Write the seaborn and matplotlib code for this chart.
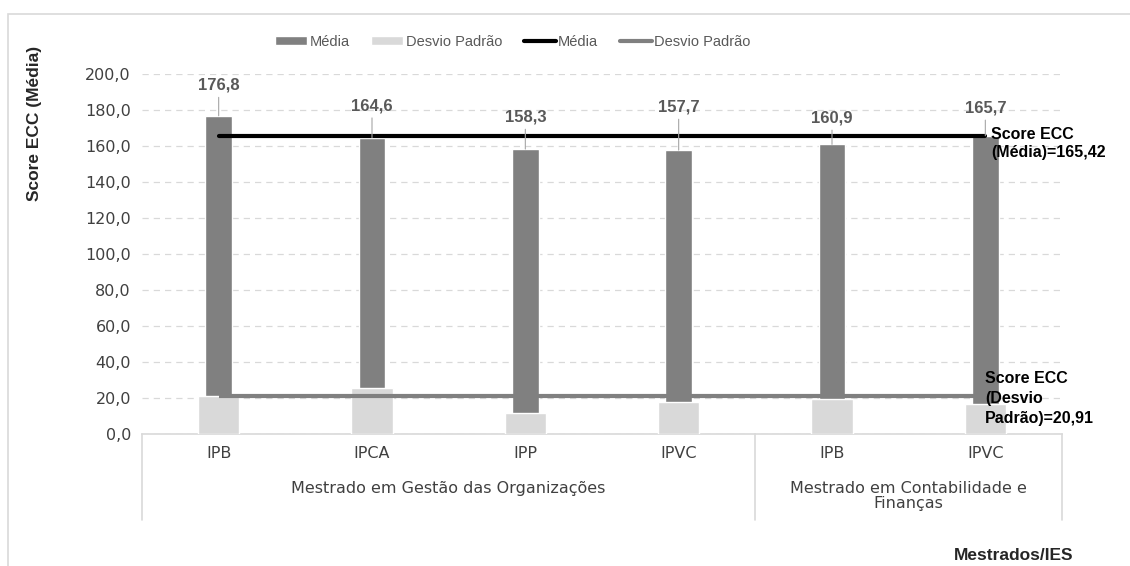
import pandas as pd
import numpy as np
import matplotlib.pyplot as plt
import matplotlib.ticker as mticker
from matplotlib.lines import Line2D
from matplotlib.patches import Patch, Rectangle
import seaborn as sns

# =============================================================================
# DADOS
# =============================================================================
mestrados = ['Mestrado em Gestão das Organizações',
             'Mestrado em Contabilidade e\nFinanças']
ies = ['IPB', 'IPCA', 'IPP', 'IPVC', 'IPB', 'IPVC']
mestrado_de_cada = [0, 0, 0, 0, 1, 1]
media = [176.8, 164.6, 158.3, 157.7, 160.9, 165.7]
desvio = [21.1, 25.5, 11.6, 17.8, 19.6, 16.9]
media_geral = 165.42
desvio_geral = 20.91

# deslocamento (pontos) dos rótulos acima das barras, como no original
desloc_rotulo = [22, 23, 23, 31, 19, 20]

COR_MEDIA = '#808080'
COR_DESVIO = '#d9d9d9'
COR_TEXTO = '#595959'
FONTE_REG = ['DejaVu Sans']
FONTE_NEG = ['Liberation Sans', 'DejaVu Sans']

df = pd.DataFrame({
    'chave': [f'{m}|{i}|{k}' for k, (m, i) in enumerate(zip(mestrado_de_cada, ies))],
    'IES': ies,
    'Média': media,
    'Desvio Padrão': desvio,
})

# =============================================================================
# GRÁFICO
# =============================================================================
sns.set_style('white')
plt.rcParams['font.family'] = ['Liberation Sans', 'DejaVu Sans']

fig = plt.figure(figsize=(11.3, 5.66), dpi=100)
ax = fig.add_axes([142 / 1130, 1 - 434 / 566, 920 / 1130, 360 / 566])

ordem = list(df['chave'])
sns.barplot(data=df, x='chave', y='Média', order=ordem, color=COR_MEDIA,
            width=0.175, saturation=1, ax=ax, zorder=2)
sns.barplot(data=df, x='chave', y='Desvio Padrão', order=ordem, color=COR_DESVIO,
            width=0.27, saturation=1, ax=ax, zorder=3)

n = len(ies)
ax.hlines(media_geral, 0, n - 1, color='black', lw=3, zorder=4, capstyle='round')
ax.hlines(desvio_geral, 0, n - 1, color=COR_MEDIA, lw=3, zorder=4)

# rótulos de dados com linhas de chamada
for i, (v, d) in enumerate(zip(media, desloc_rotulo)):
    ax.annotate(f'{v:.1f}'.replace('.', ','), xy=(i, v), xytext=(0, d),
                textcoords='offset points', ha='center', va='center',
                fontsize=12, fontweight='bold', color=COR_TEXTO, zorder=5,
                family=FONTE_NEG,
                arrowprops=dict(arrowstyle='-', color='#a6a6a6', lw=0.8,
                                shrinkA=1, shrinkB=0))

ax.annotate(f'Score ECC\n(Média)={media_geral:.2f}'.replace('.', ','),
            xy=(n - 1, media_geral), xytext=(4, 7), textcoords='offset points',
            ha='left', va='top', fontsize=11.5, fontweight='bold', color='black',
            family=FONTE_NEG, linespacing=1.3, zorder=6)
ax.annotate(f'Score ECC\n(Desvio\nPadrão)={desvio_geral:.2f}'.replace('.', ','),
            xy=(n - 1, desvio_geral), xytext=(0, 18), textcoords='offset points',
            ha='left', va='top', fontsize=11.5, fontweight='bold', color='black',
            family=FONTE_NEG, linespacing=1.4, zorder=6)

# eixos
ax.set_xlim(-0.5, n - 0.5)
ax.set_ylim(0, 200)
ax.yaxis.set_major_locator(mticker.MultipleLocator(20))
ax.yaxis.set_major_formatter(mticker.FuncFormatter(lambda v, p: f'{v:.1f}'.replace('.', ',')))
ax.grid(True, axis='y', color=COR_DESVIO, linestyle=(0, (5, 4)), lw=0.9, zorder=0)
ax.set_axisbelow(True)
for lado in ['top', 'right', 'left']:
    ax.spines[lado].set_visible(False)
ax.spines['bottom'].set_color(COR_DESVIO)
ax.spines['bottom'].set_linewidth(1.2)
ax.set_xticks(range(n))
ax.set_xticklabels(ies)
ax.tick_params(axis='x', length=0, pad=9, labelsize=11.5, labelcolor='#404040')
ax.tick_params(axis='y', length=0, pad=8, labelsize=11.5, labelcolor='#404040')
for t in ax.get_xticklabels() + ax.get_yticklabels():
    t.set_family(FONTE_REG)
ax.set_xlabel('')
ax.set_ylabel('')

# caixas das categorias de mestrado
trans = ax.get_xaxis_transform()
fundo = -86 / 360
limites = [-0.5]
for g in range(len(mestrados)):
    idx = [k for k, m in enumerate(mestrado_de_cada) if m == g]
    limites.append(max(idx) + 0.5)
    ax.text((min(idx) + max(idx)) / 2, -47 / 360, mestrados[g], transform=trans,
            ha='center', va='top', fontsize=11.5, color='#404040', linespacing=1.0,
            family=FONTE_REG)
for x in limites:
    ax.plot([x, x], [0, fundo], transform=trans, color=COR_DESVIO, lw=1.2,
            clip_on=False)

# legenda
handles = [Patch(facecolor=COR_MEDIA, label='Média'),
           Patch(facecolor=COR_DESVIO, label='Desvio Padrão'),
           Line2D([], [], color='black', lw=3, label='Média'),
           Line2D([], [], color=COR_MEDIA, lw=3, label='Desvio Padrão')]
leg = fig.legend(handles=handles, loc='center', bbox_to_anchor=(513 / 1130, 1 - 42 / 566),
                 ncol=4, frameon=False, fontsize=10.5, handlelength=2.2,
                 handleheight=0.6, handletextpad=0.15, columnspacing=1.5)
for t in leg.get_texts():
    t.set_color(COR_TEXTO)

fig.text(35 / 1130, 1 - 123 / 566, 'Score ECC (Média)', rotation=90, ha='center',
         va='center', fontsize=12.5, fontweight='bold', family=FONTE_NEG)
fig.text(1014 / 1130, 1 - 555 / 566, 'Mestrados/IES', ha='center', va='center',
         fontsize=12.5, fontweight='bold', family=FONTE_NEG)

# moldura da área do gráfico
fig.patches.append(Rectangle((8 / 1130, -0.1), 1.2, 1 - 14 / 566 + 0.1,
                             transform=fig.transFigure, fill=False,
                             edgecolor=COR_DESVIO, lw=1.2))

fig.savefig('out.png', dpi=100)
